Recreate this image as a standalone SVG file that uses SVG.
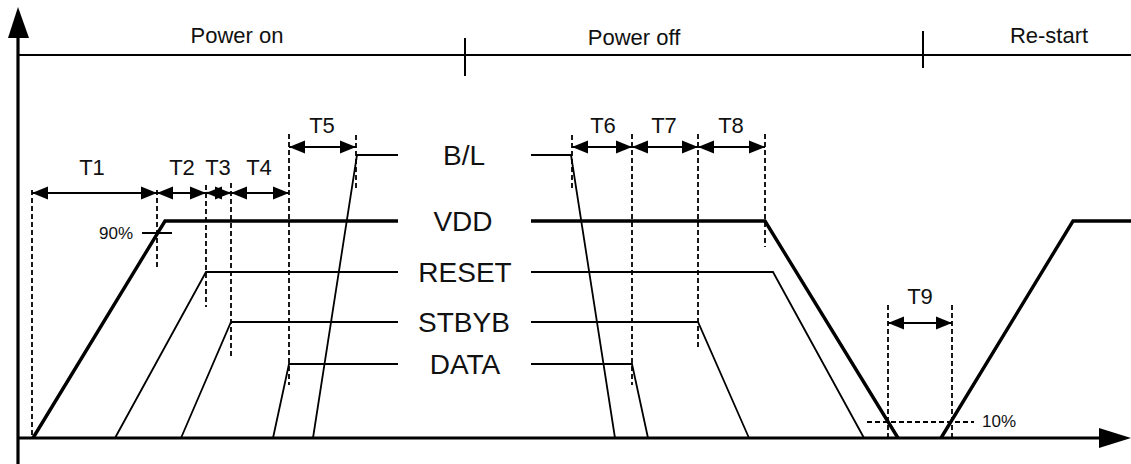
<svg xmlns="http://www.w3.org/2000/svg" width="1131" height="464" viewBox="0 0 1131 464">
<style>
text{font-family:"Liberation Sans",Arial,sans-serif;fill:#111}
.hdr{font-size:22px;text-anchor:middle}
.sig{font-size:28px;text-anchor:middle}
.t{font-size:22px;text-anchor:middle}
.pct{font-size:17px}
.axis{stroke:#000;stroke-width:3.2;fill:none}
.thick{stroke:#000;stroke-width:3.4;fill:none;stroke-linejoin:miter}
.thin{stroke:#000;stroke-width:1.8;fill:none}
.dash{stroke:#000;stroke-width:1.8;stroke-dasharray:5 3;fill:none}
.dim{stroke:#000;stroke-width:2.2;fill:none;marker-start:url(#ah);marker-end:url(#ah)}
</style>
<defs>
<marker id="ah" markerUnits="userSpaceOnUse" markerWidth="16" markerHeight="14" refX="16" refY="7" orient="auto-start-reverse" viewBox="0 0 16 14">
<path d="M0,0.5 L16,7 L0,13.5 Z" fill="#000"/>
</marker>
</defs>
<rect width="1131" height="464" fill="#fff"/>

<g id="axes">
<line class="axis" x1="18" y1="34" x2="18" y2="464"/>
<path d="M18,7 L8,38 L29,38 Z" fill="#000"/>
<line class="axis" x1="18" y1="438" x2="1102" y2="438"/>
<path d="M1131,438 L1099,428 L1099,448 Z" fill="#000"/>
</g>

<g id="phases">
<line x1="18" y1="55" x2="1131" y2="55" stroke="#000" stroke-width="2"/>
<line x1="465" y1="38" x2="465" y2="76" stroke="#000" stroke-width="2"/>
<line x1="923" y1="31" x2="923" y2="68" stroke="#000" stroke-width="2"/>
<text class="hdr" x="237" y="43">Power on</text>
<text class="hdr" x="634" y="45">Power off</text>
<text class="hdr" x="1049" y="43">Re-start</text>
</g>

<g id="sig-bl">
<polyline class="thin" points="313,438 357,155 398,155"/>
<polyline class="thin" points="531,155 571,155 615,438"/>
<text class="sig" x="464" y="165">B/L</text>
</g>

<g id="sig-vdd">
<polyline class="thick" points="33,438 165,221 398,221"/>
<polyline class="thick" points="531,221 765,221 898,438"/>
<polyline class="thick" points="941,438 1073,221 1131,221"/>
<text class="sig" x="463" y="231">VDD</text>
<line x1="142" y1="233" x2="172" y2="233" stroke="#000" stroke-width="2"/>
<text class="pct" x="99" y="239">90%</text>
</g>

<g id="sig-reset">
<polyline class="thin" points="115,438 206,272 398,272"/>
<polyline class="thin" points="531,272 773,272 864,438"/>
<text class="sig" x="465" y="282">RESET</text>
</g>

<g id="sig-stbyb">
<polyline class="thin" points="181,438 231,322 398,322"/>
<polyline class="thin" points="531,322 698,322 749,438"/>
<text class="sig" x="464" y="332">STBYB</text>
</g>

<g id="sig-data">
<polyline class="thin" points="273,438 289,364 398,364"/>
<polyline class="thin" points="531,364 632,364 648,438"/>
<text class="sig" x="465" y="374">DATA</text>
</g>

<g id="guides">
<line class="dash" x1="32" y1="190" x2="32" y2="437"/>
<line class="dash" x1="157" y1="190" x2="157" y2="270"/>
<line class="dash" x1="206" y1="185" x2="206" y2="307"/>
<line class="dash" x1="231" y1="183" x2="231" y2="357"/>
<line class="dash" x1="289" y1="134" x2="289" y2="385"/>
<line class="dash" x1="356" y1="135" x2="356" y2="188"/>
<line class="dash" x1="572" y1="135" x2="572" y2="189"/>
<line class="dash" x1="632" y1="134" x2="632" y2="385"/>
<line class="dash" x1="698" y1="134" x2="698" y2="347"/>
<line class="dash" x1="765" y1="134" x2="765" y2="247"/>
<line class="dash" x1="888" y1="305" x2="888" y2="437"/>
<line class="dash" x1="952" y1="305" x2="952" y2="437"/>
<line class="dash" x1="867" y1="422" x2="974" y2="422"/>
<text class="pct" x="982" y="427">10%</text>
</g>

<g id="connectors">
<line class="dim" x1="32" y1="193" x2="157" y2="193"/>
<line class="dim" x1="157" y1="193" x2="206" y2="193"/>
<line class="dim" x1="206" y1="193" x2="231" y2="193"/>
<line class="dim" x1="231" y1="193" x2="289" y2="193"/>
<line class="dim" x1="289" y1="147" x2="356" y2="147"/>
<line class="dim" x1="572" y1="147" x2="632" y2="147"/>
<line class="dim" x1="632" y1="147" x2="698" y2="147"/>
<line class="dim" x1="698" y1="147" x2="765" y2="147"/>
<line class="dim" x1="888" y1="323" x2="952" y2="323"/>
</g>

<g id="time-labels">
<text class="t" x="92" y="175">T1</text>
<text class="t" x="182" y="175">T2</text>
<text class="t" x="218" y="175">T3</text>
<text class="t" x="259" y="175">T4</text>
<text class="t" x="322" y="133">T5</text>
<text class="t" x="603" y="133">T6</text>
<text class="t" x="664" y="133">T7</text>
<text class="t" x="731" y="133">T8</text>
<text class="t" x="920" y="304">T9</text>
</g>
</svg>
